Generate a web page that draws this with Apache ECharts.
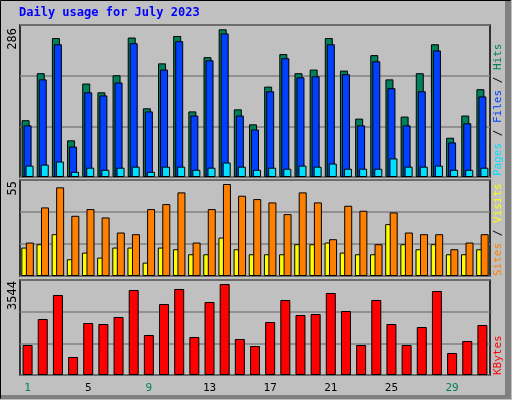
<!DOCTYPE html>
<html><head><meta charset="utf-8">
<script src="https://cdn.jsdelivr.net/npm/echarts@6/dist/echarts.min.js"></script>
<style>html,body{margin:0;padding:0;background:#c0c0c0}#c{width:512px;height:400px}</style>
</head><body><div id="c"></div>
<script>
const days = ['1','2','3','4','5','6','7','8','9','10','11','12','13','14','15','16','17','18','19','20','21','22','23','24','25','26','27','28','29','30','31'];
const weekend = ['1','2','8','9','15','16','22','23','29','30'];
const hits  = [110,201,269,71,181,164,197,270,133,220,273,127,232,286,131,102,175,238,201,208,269,206,113,236,189,117,201,257,76,119,170];
const files = [100,189,257,59,164,158,183,259,127,208,263,119,226,278,119,92,166,230,193,195,257,199,100,224,172,100,166,245,67,104,156];
const pages = [22,24,30,10,18,14,18,20,10,20,20,14,18,28,20,14,18,16,22,20,26,16,16,16,36,20,20,22,14,14,18];
const visits= [20,41,53,36,40,35,26,25,40,43,50,20,40,55,48,46,44,37,50,44,22,42,39,19,38,26,25,25,16,20,25];
const sites = [17,19,25,10,14,11,17,17,8,17,16,13,13,23,16,13,13,13,19,19,20,14,13,13,31,19,16,19,13,13,16];
const kbytes= [1168,2181,3116,701,2025,1986,2259,3310,1558,2765,3349,1480,2843,3544,1402,1129,2064,2921,2337,2375,3193,2492,1168,2921,1986,1168,1869,3271,857,1324,1947];
const maxLabels = ['286','55','3544'];

const F = 'DejaVu Sans Mono, monospace';
const tops=[294.3,57.4,3699];
const grids=[{left:20,right:22,top:25,height:152},{left:20,right:22,top:180,height:96},{left:20,right:22,top:280,height:95}];
const bs={borderColor:'#000',borderWidth:1};
function xa(i,show){return {type:'category',gridIndex:i,data:days,axisLine:{show:false},axisTick:{show:false},
 axisLabel:{show:show,margin:8,fontFamily:F,fontSize:11,formatter:v=>weekend.includes(v)?'{w|'+v+'}':'{n|'+v+'}',
 rich:{w:{color:'#00805c',fontFamily:F,fontSize:11},n:{color:'#000',fontFamily:F,fontSize:11}}}};}
function ya(i){return {type:'value',gridIndex:i,min:0,max:tops[i],interval:tops[i]/3,axisLabel:{show:false},axisLine:{show:false},axisTick:{show:false},splitLine:{lineStyle:{color:'#808080',width:1.5}}};}
const chart=echarts.init(document.getElementById('c'));
chart.setOption({
 animation:false,backgroundColor:'#c0c0c0',
 grid:grids.map(g=>Object.assign({show:true,backgroundColor:'#c0c0c0',borderColor:'#000',borderWidth:1.5},g)),
 xAxis:[xa(0,false),xa(1,false),xa(2,true)],
 yAxis:[ya(0),ya(1),ya(2)],
 series:[
  {type:'bar',xAxisIndex:0,yAxisIndex:0,data:hits,barWidth:8,barGap:'-75%',itemStyle:Object.assign({color:'#00805c'},bs)},
  {type:'bar',xAxisIndex:0,yAxisIndex:0,data:files,barWidth:8,barGap:'-75%',itemStyle:Object.assign({color:'#0040ff'},bs)},
  {type:'bar',xAxisIndex:0,yAxisIndex:0,data:pages,barWidth:8,barGap:'-75%',itemStyle:Object.assign({color:'#00e0ff'},bs)},
  {type:'bar',xAxisIndex:1,yAxisIndex:1,data:sites,barWidth:6,barGap:'-25%',itemStyle:Object.assign({color:'#ffff00'},bs)},
  {type:'bar',xAxisIndex:1,yAxisIndex:1,data:visits,barWidth:8,barGap:'-25%',itemStyle:Object.assign({color:'#ff8000'},bs)},
  {type:'bar',xAxisIndex:2,yAxisIndex:2,data:kbytes,barWidth:10,itemStyle:Object.assign({color:'#ff0000'},bs)}
 ],
 graphic:[
  {type:'rect',shape:{x:0.5,y:0.5,width:510,height:398},style:{fill:'none',stroke:'#000',lineWidth:1}},
  {type:'rect',shape:{x:505,y:1,width:6,height:398},style:{fill:'#808080'}},
  {type:'rect',shape:{x:1,y:395,width:510,height:4},style:{fill:'#808080'}},
  {type:'text',left:19,top:7,style:{text:'Daily usage for July 2023',fill:'#0000ff',font:'bold 12px '+F}},
  {type:'text',x:13,y:28,rotation:Math.PI/2,style:{text:maxLabels[0],fill:'#000',font:'12px '+F,align:'right',verticalAlign:'middle'}},
  {type:'text',x:13,y:181,rotation:Math.PI/2,style:{text:maxLabels[1],fill:'#000',font:'12px '+F,align:'right',verticalAlign:'middle'}},
  {type:'text',x:13,y:281,rotation:Math.PI/2,style:{text:maxLabels[2],fill:'#000',font:'12px '+F,align:'right',verticalAlign:'middle'}},
  {type:'text',x:498,y:176,rotation:Math.PI/2,style:{text:'{p|Pages} / {f|Files} / {h|Hits}',fill:'#000',font:'11px '+F,align:'left',verticalAlign:'middle',
    rich:{p:{fill:'#00e0ff',font:'11px '+F},f:{fill:'#0040ff',font:'11px '+F},h:{fill:'#00805c',font:'11px '+F}}}},
  {type:'text',x:498,y:276,rotation:Math.PI/2,style:{text:'{s|Sites} / {v|Visits}',fill:'#000',font:'11px '+F,align:'left',verticalAlign:'middle',
    rich:{s:{fill:'#ff8000',font:'11px '+F},v:{fill:'#ffff00',font:'11px '+F}}}},
  {type:'text',x:498,y:375,rotation:Math.PI/2,style:{text:'KBytes',fill:'#ff0000',font:'11px '+F,align:'left',verticalAlign:'middle'}}
 ]
});
</script></body></html>
